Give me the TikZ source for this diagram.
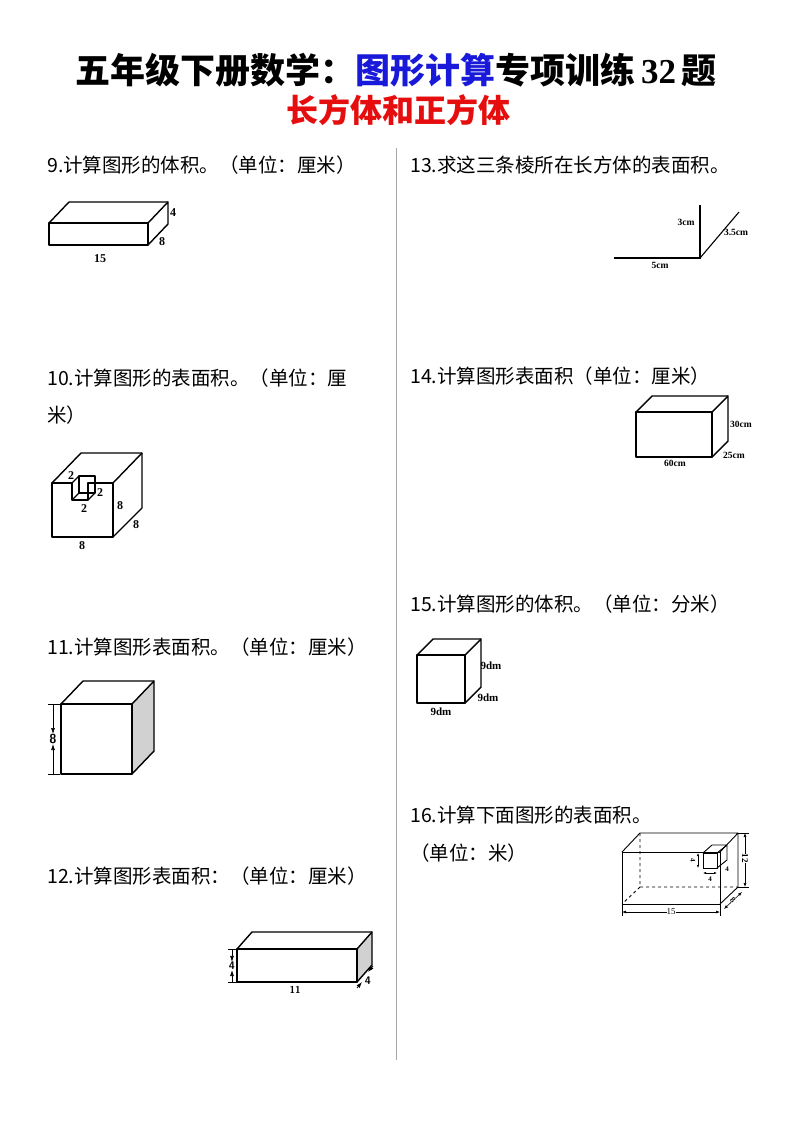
\documentclass[tikz,border=0pt]{standalone}
\usepackage{fontspec}
\setmainfont{Liberation Serif}
\newfontfamily\cjk{Noto Sans CJK SC}
\usetikzlibrary{arrows.meta}
\definecolor{titleblue}{rgb}{0.1,0.1,0.85}
\definecolor{titlered}{rgb}{0.9,0.05,0.05}
\definecolor{sidegray}{rgb}{0.82,0.82,0.82}
\tikzset{
  qtext/.style={anchor=west,inner sep=0pt,font=\cjk\fontsize{19.5}{22}\selectfont},
  dimlabel/.style={inner sep=0pt,font=\bfseries\fontsize{12}{14}\selectfont},
  edge/.style={line width=1.4pt,line join=round},
  dimline/.style={line width=0.7pt,-{Latex[length=6pt,width=4pt]}}
}
% cuboid: front lower-left corner, width, height, depth offset
\newcommand{\boxfig}[7]{%
  \draw[edge,fill=#7] (#1+#3,#2) -- (#1+#3+#5,#2-#6) -- (#1+#3+#5,#2-#4-#6) -- (#1+#3,#2-#4) -- cycle;
  \draw[edge,fill=white] (#1,#2) rectangle (#1+#3,#2-#4);
  \draw[edge] (#1,#2-#4) -- (#1+#5,#2-#4-#6) -- (#1+#3+#5,#2-#4-#6);
}
\begin{document}
\begin{tikzpicture}[x=1pt,y=-1pt]
\useasboundingbox (0,0) rectangle (793,1122);
\fill[white] (0,0) rectangle (793,1122);
\node (title) at (396,70) {\cjk\bfseries\fontsize{35}{38}\selectfont 五年级下册数学：\textcolor{titleblue}{图形计算}专项训练\,{\rmfamily 32}\,题};
\node (subtitle) at (398,110) {\cjk\bfseries\fontsize{32}{34}\selectfont\color{titlered}长方体和正方体};
\draw[gray!70,line width=0.8pt] (396,148) -- (396,1060);

% left column
\node[qtext] (q9) at (47,165) {9.计算图形的体积。（单位：厘米）};
\boxfig{49}{245}{99}{22}{20}{21}{white}
\node[dimlabel] (l9a) at (173,213) {4};
\node[dimlabel] (l9b) at (162,242) {8};
\node[dimlabel] (l9c) at (100,259) {15};

\node[qtext] (q10) at (47,378) {10.计算图形的表面积。（单位：厘};
\node[qtext] (q10b) at (47,415) {米）};
\draw[edge] (52,483) -- (72,483) -- (72,500) -- (88,500) -- (88,483) -- (113,483) -- (113,537) -- (52,537) -- cycle;
\draw[edge] (52,483) -- (81,453) -- (142,453) -- (142,508) -- (113,537);
\draw[edge] (113,483) -- (142,453);
\draw[edge] (79,476) -- (95,476) -- (95,493) -- (79,493) -- cycle;
\draw[edge] (72,500) -- (79,493) (88,500) -- (95,493) (72,483) -- (79,476);
\node[dimlabel] (l10a) at (71,476) {2};
\node[dimlabel] (l10b) at (100,493) {2};
\node[dimlabel] (l10c) at (84,509) {2};
\node[dimlabel] (l10d) at (120,506) {8};
\node[dimlabel] (l10e) at (136,525) {8};
\node[dimlabel] (l10f) at (82,546) {8};

\node[qtext] (q11) at (47,647) {11.计算图形表面积。（单位：厘米）};
\boxfig{61}{774}{71}{70}{22}{23}{sidegray}
\coordinate (d11t) at (53,704);
\coordinate (d11b) at (53,774);
\node[dimlabel,font=\sffamily\bfseries\fontsize{13}{15}\selectfont] (l11) at (53,739) {8};
\draw[line width=0.7pt] (48,704) -- (60,704) (48,774) -- (60,774);
\draw[dimline] (d11t) -- (l11.north);
\draw[dimline] (d11b) -- (l11.south);

\node[qtext] (q12) at (47,876) {12.计算图形表面积：（单位：厘米）};
\boxfig{237}{982}{120}{33}{15}{17}{sidegray}
\coordinate (d12t) at (232,949);
\coordinate (d12b) at (232,982);
\node[dimlabel,font=\sffamily\bfseries\fontsize{11}{12}\selectfont] (l12a) at (232,966) {4};
\draw[line width=0.6pt] (228,949) -- (237,949) (228,982) -- (237,982);
\draw[dimline] (d12t) -- (l12a.north);
\draw[dimline] (d12b) -- (l12a.south);
\node[dimlabel,font=\sffamily\bfseries\fontsize{10}{12}\selectfont] (l12b) at (295,990) {11};
\node[dimlabel,font=\sffamily\bfseries\fontsize{11}{12}\selectfont] (l12c) at (368,981) {4};
\coordinate (d12r) at (373,966);
\coordinate (d12s) at (357,988);
\draw[dimline] (d12r) -- (368,972);
\draw[dimline] (d12s) -- (362,982);

% right column
\node[qtext] (q13) at (410,165) {13.求这三条棱所在长方体的表面积。};
\coordinate (c13) at (700,258);
\draw[line width=1.1pt] (614,258) -- (c13) -- (700,205);
\draw[line width=1.1pt] (c13) -- (739,212);
\node[dimlabel,font=\bfseries\fontsize{9.5}{11}\selectfont] (l13a) at (686,222) {3cm};
\node[dimlabel,font=\bfseries\fontsize{9.5}{11}\selectfont] (l13b) at (736,232) {3.5cm};
\node[dimlabel,font=\bfseries\fontsize{9.5}{11}\selectfont] (l13c) at (660,265) {5cm};

\node[qtext] (q14) at (410,376) {14.计算图形表面积（单位：厘米）};
\boxfig{636}{457}{76}{45}{16}{16}{white}
\node[dimlabel,font=\bfseries\fontsize{9.5}{11}\selectfont] (l14a) at (741,424) {30cm};
\node[dimlabel,font=\bfseries\fontsize{9.5}{11}\selectfont] (l14b) at (734,455) {25cm};
\node[dimlabel,font=\bfseries\fontsize{9.5}{11}\selectfont] (l14c) at (675,463) {60cm};

\node[qtext] (q15) at (410,604) {15.计算图形的体积。（单位：分米）};
\boxfig{417}{703}{48}{48}{16}{16}{white}
\node[dimlabel,font=\bfseries\fontsize{11}{12}\selectfont] (l15a) at (491,666) {9dm};
\node[dimlabel,font=\bfseries\fontsize{11}{12}\selectfont] (l15b) at (488,698) {9dm};
\node[dimlabel,font=\bfseries\fontsize{11}{12}\selectfont] (l15c) at (441,712) {9dm};

\node[qtext] (q16) at (410,815) {16.计算下面图形的表面积。};
\node[qtext] (q16b) at (410,853) {（单位：米）};
\draw[line width=0.9pt,dashed] (640,833) -- (640,887) -- (738,887) (640,887) -- (622,904);
\draw[line width=0.9pt] (622,904) rectangle (720,852);
\draw[line width=0.9pt] (622,852) -- (640,833) -- (738,833) -- (738,887) -- (720,904) (720,852) -- (738,833);
\draw[line width=0.9pt,fill=white] (703,868) rectangle (717,853);
\draw[line width=0.9pt] (703,853) -- (712,845) -- (727,845) -- (727,860) -- (717,868) (717,853) -- (727,845);
\coordinate (d16a) at (698,853);
\coordinate (d16b) at (698,868);
\node[dimlabel,font=\bfseries\fontsize{7}{8}\selectfont,rotate=-90] (l16a) at (693,860) {4};
\draw[line width=0.5pt,{Latex[length=3pt]}-{Latex[length=3pt]}] (d16a) -- (d16b);
\coordinate (d16c) at (703,873);
\coordinate (d16d) at (717,873);
\node[dimlabel,font=\bfseries\fontsize{7}{8}\selectfont] (l16b) at (710,879) {4};
\draw[line width=0.5pt,{Latex[length=3pt]}-{Latex[length=3pt]}] (d16c) -- (d16d);
\node[dimlabel,font=\bfseries\fontsize{7}{8}\selectfont] (l16c) at (727,869) {4};
\coordinate (d16e) at (745,833);
\coordinate (d16f) at (745,887);
\draw[line width=0.6pt,{Latex[length=4pt]}-{Latex[length=4pt]}] (d16e) -- (d16f);
\draw[line width=0.5pt] (738,833) -- (749,833) (738,887) -- (749,887);
\node[dimlabel,font=\bfseries\fontsize{9}{10}\selectfont,rotate=-90,fill=white] (l16d) at (745,858) {12};
\coordinate (d16g) at (724,909);
\coordinate (d16h) at (742,892);
\draw[line width=0.6pt,{Latex[length=4pt]}-{Latex[length=4pt]}] (d16g) -- (d16h);
\node[dimlabel,font=\bfseries\fontsize{8}{9}\selectfont,rotate=-45,fill=white] (l16e) at (733,900) {8};
\coordinate (d16i) at (622,912);
\coordinate (d16j) at (720,912);
\draw[line width=0.6pt,{Latex[length=4pt]}-{Latex[length=4pt]}] (d16i) -- (d16j);
\draw[line width=0.5pt] (622,904) -- (622,916) (720,904) -- (720,916);
\node[dimlabel,font=\fontsize{9}{10}\selectfont,fill=white] (l16f) at (671,912) {15};
\end{tikzpicture}
\end{document}
